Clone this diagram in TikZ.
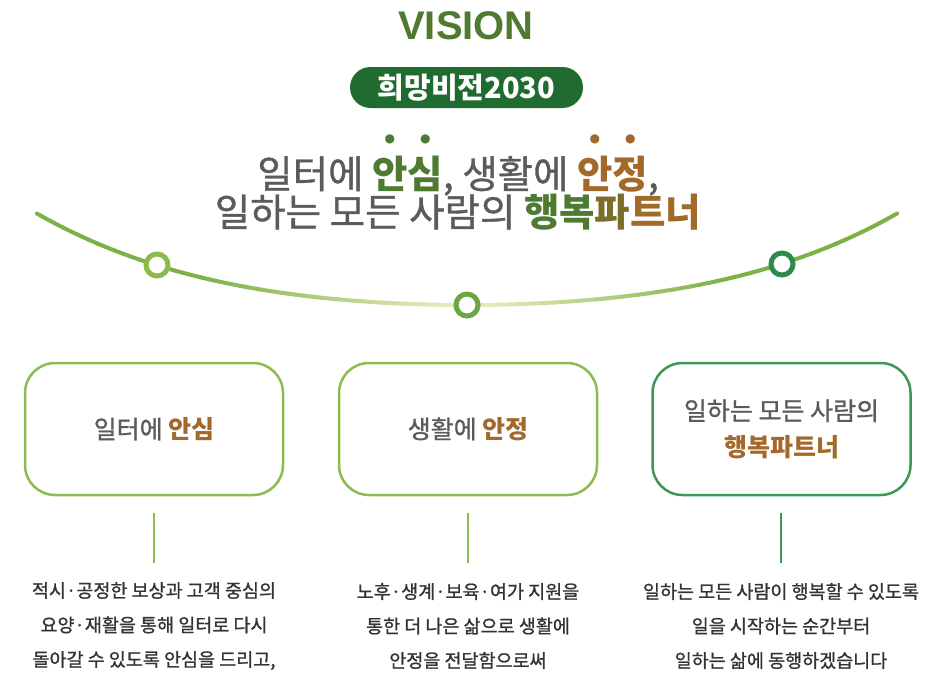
\documentclass[tikz,border=0pt]{standalone}
\usepackage{fontspec}
\newfontfamily\kr{Noto Sans CJK KR}
\newfontfamily\krm[FakeBold=1.0]{Noto Sans CJK KR}
\newfontfamily\lat{Liberation Sans}
\newfontfamily\sym{DejaVu Sans}
\definecolor{vgreen}{HTML}{4F7A30}
\definecolor{pillgreen}{HTML}{1F6B30}
\definecolor{txtgray}{HTML}{5B5B5B}
\definecolor{hgreen}{HTML}{4E7A32}
\definecolor{hmid}{HTML}{7A6E2D}
\definecolor{hbrown}{HTML}{A2692A}
\definecolor{arcgreen}{HTML}{7DB046}
\definecolor{arcpale}{HTML}{E6EABB}
\definecolor{ringA}{HTML}{8CBA4B}
\definecolor{ringB}{HTML}{6BA546}
\definecolor{ringC}{HTML}{2E8B4E}
\definecolor{boxA}{HTML}{8CBB4E}
\definecolor{boxC}{HTML}{3D9852}
\definecolor{bodytxt}{HTML}{333333}
\newcommand\dt[1]{\leavevmode\setbox0\hbox{#1}\rlap{\hbox to \wd0{\hss\raisebox{46pt}{\fontsize{12}{12}\selectfont\sym ●}\hss}}#1}
\tikzset{
  ring/.style={circle, minimum size=22pt, inner sep=0pt, line width=5pt, fill=white},
  card/.style={rounded corners=30pt, minimum width=258pt, minimum height=132pt, line width=2.5pt, fill=white, align=center, text=txtgray, font=\krm\fontsize{25}{36}\selectfont},
  body/.style={align=center, text=bodytxt, font=\krm\fontsize{18.5}{34.5}\selectfont},
  head/.style={text=txtgray, font=\krm\fontsize{38.5}{44}\selectfont, inner sep=0pt},
  tick/.style={line width=1.6pt}
}
\begin{document}
\begin{tikzpicture}[x=1pt,y=-1pt]
\useasboundingbox (0,0) rectangle (949,685);
% titles
\node[text=vgreen, font=\lat\bfseries\fontsize{40}{40}\selectfont] (vision) at (466,26) {VISION};
\node[fill=pillgreen, rounded corners=20.5pt, minimum width=233pt, minimum height=41pt, inner sep=0pt, text=white, font=\kr\bfseries\fontsize{29}{30}\selectfont] (pill) at (466.5,87.5) {희망비전2030};
\node[head] (h1) at (458,165) {일터에 {\kr\bfseries\color{hgreen}\dt{안}\dt{심}}, 생활에 {\kr\bfseries\color{hbrown}\dt{안}\dt{정}},};
\node[head] (h2) at (458,212) {일하는 모든 사람의 {\kr\bfseries{\color{hgreen}행복}{\color{hmid}파}{\color{hbrown}트너}}};
% arc with gradient
\foreach \i in {0,...,99} {
  \pgfmathsetmacro\xa{37+\i*8.6}
  \pgfmathsetmacro\xb{37+(\i+1)*8.6}
  \pgfmathsetmacro\ua{(\xa-467)/100}
  \pgfmathsetmacro\ub{(\xb-467)/100}
  \pgfmathsetmacro\ya{305-3.248*\ua*\ua-0.0918*\ua*\ua*\ua*\ua}
  \pgfmathsetmacro\yb{305-3.248*\ub*\ub-0.0918*\ub*\ub*\ub*\ub}
  \pgfmathsetmacro\g{min(100,max(0,(abs((\xa+\xb)/2-467)-25)/2.4))}
  \draw[line width=4pt, line cap=round, color=arcgreen!\g!arcpale] (\xa,\ya) -- (\xb,\yb);
}
\node[ring, draw=ringA] (c1) at (157,265) {};
\node[ring, draw=ringB] (c2) at (467,305) {};
\node[ring, draw=ringC] (c3) at (782,264) {};
% cards
\node[card, draw=boxA] (b1) at (154,429) {일터에 {\kr\bfseries\color{hbrown}안심}};
\node[card, draw=boxA] (b2) at (468,429) {생활에 {\kr\bfseries\color{hbrown}안정}};
\node[card, draw=boxC] (b3) at (781.5,429) {일하는 모든 사람의\\{\kr\bfseries\color{hbrown}행복파트너}};
% ticks
\coordinate (k1t) at (154,513); \coordinate (k1b) at (154,563);
\coordinate (k2t) at (468,513); \coordinate (k2b) at (468,563);
\coordinate (k3t) at (781,513); \coordinate (k3b) at (781,563);
\draw[tick, draw=boxA] (k1t) -- (k1b);
\draw[tick, draw=boxA] (k2t) -- (k2b);
\draw[tick, draw=boxC] (k3t) -- (k3b);
% body texts
\node[body] (t1) at (154,626) {적시·공정한 보상과 고객 중심의\\요양·재활을 통해 일터로 다시\\돌아갈 수 있도록 안심을 드리고,};
\node[body] (t2) at (468,626) {노후·생계·보육·여가 지원을\\통한 더 나은 삶으로 생활에\\안정을 전달함으로써};
\node[body] (t3) at (781,626) {일하는 모든 사람이 행복할 수 있도록\\일을 시작하는 순간부터\\일하는 삶에 동행하겠습니다};
\end{tikzpicture}
\end{document}
